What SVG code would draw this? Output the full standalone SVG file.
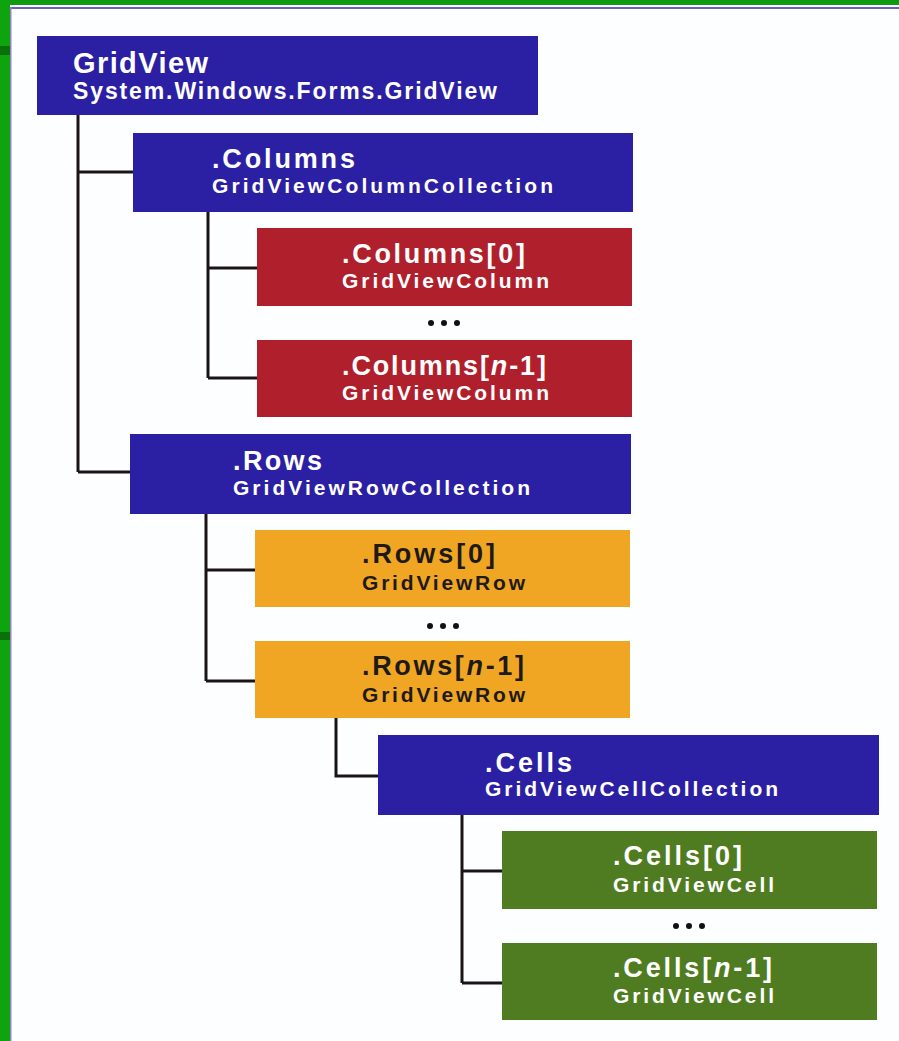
<svg xmlns="http://www.w3.org/2000/svg" width="899" height="1041" viewBox="0 0 899 1041">
<style>
.blue{fill:#2b20a3}
.red{fill:#b0202c}
.orange{fill:#f0a622}
.green{fill:#4f7c20}
.t{font-family:"Liberation Sans",Arial,sans-serif;font-weight:bold;fill:#ffffff}
.dk{fill:#1e1a1a}
.big{font-size:27px}
.sub{font-size:21px}
.conn{stroke:#1a1414;stroke-width:3;fill:none}
.dot{fill:#111}
</style>
<rect x="0" y="0" width="899" height="1041" fill="#fdfeff"/>
<rect x="0" y="0" width="899" height="5" fill="#109a10"/>
<rect x="0" y="0" width="10" height="1041" fill="#0ea40e"/>
<rect x="0" y="46" width="10" height="9" fill="#0a700a"/>
<rect x="0" y="632" width="10" height="8" fill="#0a700a"/>
<rect x="10" y="7" width="889" height="2" fill="#6a62b8"/>
<rect x="10" y="7" width="1.5" height="1034" fill="#9a80c8"/>
<g id="connectors">
<path class="conn" d="M78 115 V472 M78 172 H133 M78 472 H130"/>
<path class="conn" d="M208 212 V378 M208 268 H257 M208 378 H257"/>
<path class="conn" d="M206 514 V681 M206 570 H255 M206 681 H255"/>
<path class="conn" d="M336 718 V776 H378"/>
<path class="conn" d="M462 815 V983 M462 871 H502 M462 983 H502"/>
</g>
<g id="gridview">
<rect class="blue" x="37" y="36" width="501" height="79"/>
<text class="t" x="73" y="73" font-size="29" textLength="135" lengthAdjust="spacing">GridView</text>
<text class="t" x="73" y="99" font-size="23" textLength="424" lengthAdjust="spacing">System.Windows.Forms.GridView</text>
</g>
<g id="columns">
<rect class="blue" x="133" y="133" width="500" height="79"/>
<text class="t big" x="212" y="168" textLength="143" lengthAdjust="spacing">.Columns</text>
<text class="t sub" x="212" y="193" textLength="341" lengthAdjust="spacing">GridViewColumnCollection</text>
</g>
<g id="columns0">
<rect class="red" x="257" y="228" width="375" height="78"/>
<text class="t big" x="342" y="263" textLength="183" lengthAdjust="spacing">.Columns[0]</text>
<text class="t sub" x="342" y="288" textLength="207" lengthAdjust="spacing">GridViewColumn</text>
</g>
<g id="columnsDots">
<circle class="dot" cx="431" cy="323" r="3"/><circle class="dot" cx="444" cy="323" r="3"/><circle class="dot" cx="457" cy="323" r="3"/>
</g>
<g id="columnsN">
<rect class="red" x="257" y="340" width="375" height="77"/>
<text class="t big" x="342" y="375" textLength="204" lengthAdjust="spacing">.Columns[<tspan font-style="italic">n</tspan>-1]</text>
<text class="t sub" x="342" y="400" textLength="207" lengthAdjust="spacing">GridViewColumn</text>
</g>
<g id="rows">
<rect class="blue" x="130" y="434" width="501" height="80"/>
<text class="t big" x="233" y="470" textLength="89" lengthAdjust="spacing">.Rows</text>
<text class="t sub" x="233" y="495" textLength="297" lengthAdjust="spacing">GridViewRowCollection</text>
</g>
<g id="rows0">
<rect class="orange" x="255" y="530" width="375" height="77"/>
<text class="t dk big" x="362" y="563" textLength="133" lengthAdjust="spacing">.Rows[0]</text>
<text class="t dk sub" x="362" y="590" textLength="163" lengthAdjust="spacing">GridViewRow</text>
</g>
<g id="rowsDots">
<circle class="dot" cx="430" cy="626" r="3"/><circle class="dot" cx="443" cy="626" r="3"/><circle class="dot" cx="456" cy="626" r="3"/>
</g>
<g id="rowsN">
<rect class="orange" x="255" y="641" width="375" height="77"/>
<text class="t dk big" x="362" y="675" textLength="162" lengthAdjust="spacing">.Rows[<tspan font-style="italic">n</tspan>-1]</text>
<text class="t dk sub" x="362" y="702" textLength="163" lengthAdjust="spacing">GridViewRow</text>
</g>
<g id="cells">
<rect class="blue" x="378" y="735" width="501" height="80"/>
<text class="t big" x="485" y="772" textLength="87" lengthAdjust="spacing">.Cells</text>
<text class="t sub" x="485" y="796" textLength="293" lengthAdjust="spacing">GridViewCellCollection</text>
</g>
<g id="cells0">
<rect class="green" x="502" y="831" width="375" height="78"/>
<text class="t big" x="613" y="865" textLength="129" lengthAdjust="spacing">.Cells[0]</text>
<text class="t sub" x="613" y="892" textLength="161" lengthAdjust="spacing">GridViewCell</text>
</g>
<g id="cellsDots">
<circle class="dot" cx="676" cy="926" r="3"/><circle class="dot" cx="689" cy="926" r="3"/><circle class="dot" cx="702" cy="926" r="3"/>
</g>
<g id="cellsN">
<rect class="green" x="502" y="943" width="375" height="77"/>
<text class="t big" x="613" y="977" textLength="159" lengthAdjust="spacing">.Cells[<tspan font-style="italic">n</tspan>-1]</text>
<text class="t sub" x="613" y="1003" textLength="161" lengthAdjust="spacing">GridViewCell</text>
</g>
</svg>
